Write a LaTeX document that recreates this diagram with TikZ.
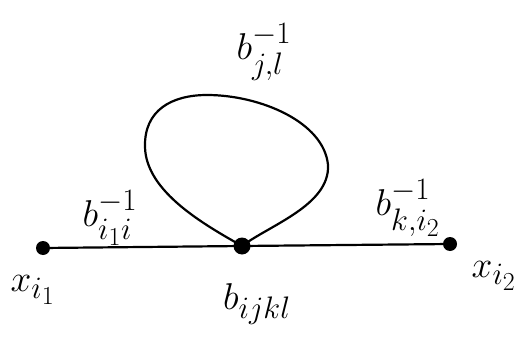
\documentclass[tikz,border=0pt]{standalone}
\usepackage{amsmath}
\begin{document}
\begin{tikzpicture}[x=1pt,y=-1pt,
  edge/.style={line width=2.2pt,line cap=round},
  bigdot/.style={circle,fill=black,inner sep=0pt,minimum size=15pt},
  lbl/.style={inner sep=0pt,font=\Huge,scale=1.5}]
\useasboundingbox (0,0) rectangle (524,342);
\node[bigdot,minimum size=14pt] (xa) at (43,248) {};
\node[bigdot,minimum size=17pt] (c) at (242,246) {};
\node[bigdot,minimum size=14pt] (xb) at (450,244) {};
\draw[edge] (xa.center) -- (c.center);
\draw[edge] (c.center) -- (xb.center);
\draw[edge] (c.center) .. controls (205,225) and (146,192) .. (145,147)
  .. controls (144,110) and (172,95) .. (207,95)
  .. controls (260,95) and (324,122) .. (328,165)
  .. controls (330,205) and (270,225) .. (c.center);
\node[lbl] (ljl) at (264,52) {$b^{-1}_{j,l}$};
\node[lbl] (lii) at (110,218) {$b^{-1}_{i_1 i}$};
\node[lbl] (lki) at (408,208) {$b^{-1}_{k,i_2}$};
\node[lbl] (lxa) at (33,290) {$x_{i_1}$};
\node[lbl] (lxb) at (494,276) {$x_{i_2}$};
\node[lbl] (lc) at (257,304) {$b_{ijkl}$};
\end{tikzpicture}
\end{document}
